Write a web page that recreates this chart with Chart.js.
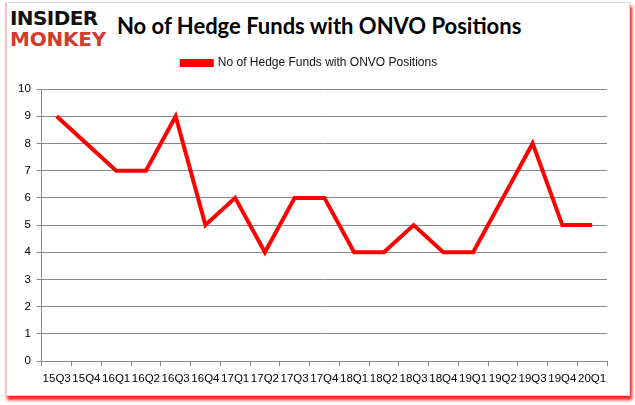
<!DOCTYPE html>
<html>
<head>
<meta charset="utf-8">
<script src="https://cdn.jsdelivr.net/npm/chart.js@4"></script>
<style>
    body { margin: 0; background: #fff; }
    #frame {
        position: absolute; left: 5px; top: 2px; width: 622px; height: 392px;
        border: 1px solid #d8d8d8; border-left: 2px solid #f0c8c8;
        box-shadow: 2px 4px 3px #ff2020;
        background: #fff;
    }
    #logo { position: absolute; left: 10px; top: 8px; font-family: "DejaVu Sans", sans-serif; font-weight: bold; line-height: 21px; }
    #logo .a { color: #111; font-size: 20px; letter-spacing: -0.6px; }
    #logo .b { color: #d13b2e; font-size: 20px; letter-spacing: -0.2px; }
    #titulo { position: absolute; left: 117px; top: 12px; font-family: Lato, "Open Sans", sans-serif; font-weight: bold; font-size: 22px; color: #000; }
    #box { position: absolute; left: 0; top: 45px; width: 630px; height: 348px; }
</style>
</head>
<body>
<div id="frame"></div>
<div id="logo"><div class="a">INSIDER</div><div class="b">MONKEY</div></div>
<div id="titulo">No of Hedge Funds with ONVO Positions</div>
<div id="box"><canvas id="grafico"></canvas></div>
<script>
var trimestres = ['15Q3', '15Q4', '16Q1', '16Q2', '16Q3', '16Q4', '17Q1', '17Q2', '17Q3', '17Q4',
    '18Q1', '18Q2', '18Q3', '18Q4', '19Q1', '19Q2', '19Q3', '19Q4', '20Q1'];
var fundos = [9, 8, 7, 7, 9, 5, 6, 4, 6, 6, 4, 4, 5, 4, 4, 6, 8, 5, 5];
var ticksY = [0, 1, 2, 3, 4, 5, 6, 7, 8, 9, 10];

Chart.defaults.font.family = '"Liberation Sans", sans-serif';
Chart.defaults.color = '#000';

// espaco extra abaixo da legenda
var espacoLegenda = {
    id: 'espacoLegenda',
    beforeInit: function (chart) {
        var fitOrig = chart.legend.fit;
        chart.legend.fit = function () {
            fitOrig.bind(chart.legend)();
            this.height += 10;
        };
    }
};

let ctx = document.getElementById('grafico');
let graficoLinha = new Chart(ctx, {
    type: 'line',
    data: {
        labels: trimestres,
        datasets: [{
            label: 'No of Hedge Funds with ONVO Positions',
            data: fundos,
            borderColor: '#ff0000',
            backgroundColor: '#ff0000',
            borderWidth: 4,
            pointRadius: 0,
            tension: 0
        }]
    },
    plugins: [espacoLegenda],
    options: {
        responsive: true,
        maintainAspectRatio: false,
        animation: false,
        layout: { padding: { left: 12, right: 23, top: 0, bottom: 1 } },
        plugins: {
            legend: {
                labels: { boxWidth: 30, boxHeight: 4, font: { size: 12 }, padding: 12, color: '#111' }
            },
            tooltip: { enabled: false }
        },
        scales: {
            x: {
                offset: true,
                grid: { display: true, drawOnChartArea: false, offset: true, color: '#888', tickLength: 5 },
                border: { color: '#888' },
                ticks: { font: { size: 11.5 }, maxRotation: 0, autoSkip: false, padding: 6 }
            },
            y: {
                min: 0,
                max: 10,
                afterBuildTicks: function (eixo) {
                    eixo.ticks = ticksY.map(function (v) { return { value: v }; });
                },
                grid: { color: '#888', tickLength: 5 },
                border: { color: '#888' },
                ticks: { font: { size: 11.5 }, padding: 6 }
            }
        }
    }
});
</script>
</body>
</html>
